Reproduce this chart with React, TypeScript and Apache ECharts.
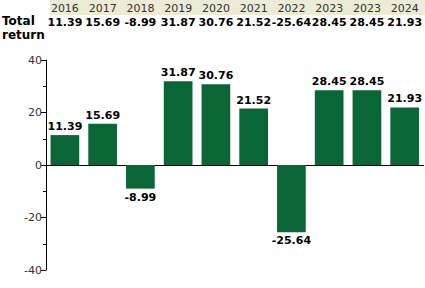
import React, { useEffect, useRef } from "react";
import * as echarts from "echarts";

const years = ["2016", "2017", "2018", "2019", "2020", "2021", "2022", "2023", "2023", "2024"];
const totalReturn = [11.39, 15.69, -8.99, 31.87, 30.76, 21.52, -25.64, 28.45, 28.45, 21.93];
const valueLabels = ["11.39", "15.69", "-8.99", "31.87", "30.76", "21.52", "-25.64", "28.45", "28.45", "21.93"];
const yTicks = { min: -40, max: 40, interval: 20 };

const FONT = "DejaVu Sans";

export default function App() {
  const ref = useRef<HTMLDivElement>(null);
  useEffect(() => {
    const chart = echarts.init(ref.current!, null, { renderer: "svg" });
    chart.setOption({
      animation: false,
      grid: { left: 46, right: 0, top: 60, bottom: 18 },
      graphic: [
        { type: "rect", shape: { x: 50, y: 0, width: 375, height: 15 }, style: { fill: "#ecebd6" }, z: -1 },
        { type: "text", x: 2, y: 14, style: { text: "Total\nreturn", font: `bold 12px "${FONT}"`, fill: "#000", lineHeight: 14 } },
      ],
      xAxis: [
        {
          type: "category",
          data: years,
          axisLine: { onZero: true, lineStyle: { color: "#000", width: 1 } },
          axisTick: { show: false },
          axisLabel: { show: false },
        },
        {
          type: "category",
          data: years,
          position: "top",
          offset: 46,
          axisLine: { show: false },
          axisTick: { show: false },
          axisLabel: { margin: 0, interval: 0, hideOverlap: false, color: "#333", fontFamily: FONT, fontSize: 11 },
        },
        {
          type: "category",
          data: valueLabels,
          position: "top",
          offset: 32,
          axisLine: { show: false },
          axisTick: { show: false },
          axisLabel: { margin: 0, interval: 0, hideOverlap: false, color: "#000", fontFamily: FONT, fontSize: 11, fontWeight: "bold" },
        },
      ],
      yAxis: {
        type: "value",
        min: yTicks.min,
        max: yTicks.max,
        interval: yTicks.interval,
        axisLine: { show: true, lineStyle: { color: "#000" } },
        axisTick: { show: true, length: 5, lineStyle: { color: "#000" } },
        minorTick: { show: true, splitNumber: 2, length: 3, lineStyle: { color: "#000" } },
        splitLine: { show: false },
        axisLabel: { color: "#333", fontFamily: FONT, fontSize: 11, margin: 4 },
      },
      series: [
        {
          type: "bar",
          data: totalReturn.map((v) => ({
            value: v,
            label: { position: v >= 0 ? "top" : "bottom" },
          })),
          barCategoryGap: "24%",
          itemStyle: { color: "#0a6636" },
          label: {
            show: true,
            color: "#000",
            fontFamily: FONT,
            fontSize: 11,
            fontWeight: "bold",
            distance: 3,
            formatter: (p: any) => p.value.toFixed(2),
          },
        },
      ],
    });
    return () => chart.dispose();
  }, []);
  return <div ref={ref} style={{ width: 425, height: 288, position: "absolute", left: 0, top: 0 }} />;
}
